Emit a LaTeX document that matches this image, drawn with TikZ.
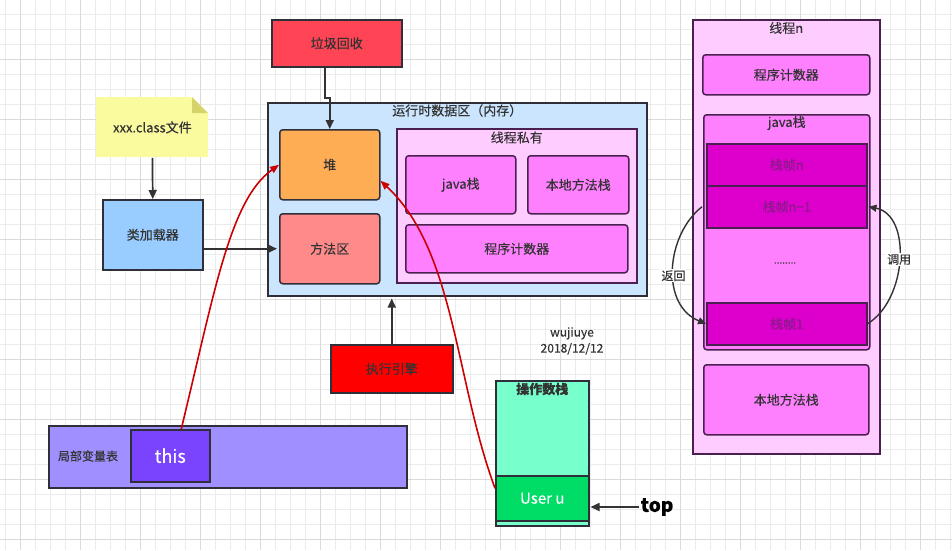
\documentclass[tikz,border=0pt]{standalone}
\usepackage{fontspec}
\setmainfont{Noto Sans CJK SC}[FakeBold=0.3]
\usepackage{xcolor}
\usepackage{tikz}
\usetikzlibrary{arrows.meta, calc, positioning}

\definecolor{gridminor}{HTML}{EBEBEB}
\definecolor{gridmajor}{HTML}{DADADA}
\definecolor{boxline}{HTML}{2F2F3A}
\definecolor{pinkline}{HTML}{4A2050}
\definecolor{textdark}{HTML}{333333}
\definecolor{gcred}{HTML}{FF4455}
\definecolor{noteyellow}{HTML}{FAFA9E}
\definecolor{notefold}{HTML}{D4D46A}
\definecolor{loaderblue}{HTML}{99CCFF}
\definecolor{runtimeblue}{HTML}{CCE5FF}
\definecolor{heaporange}{HTML}{FFAD55}
\definecolor{methodred}{HTML}{FF8A8A}
\definecolor{privpink}{HTML}{FFCCFF}
\definecolor{stackpink}{HTML}{FF80FF}
\definecolor{framemag}{HTML}{DD00CC}
\definecolor{frametext}{HTML}{8A1A8A}
\definecolor{opgreen}{HTML}{77FFCC}
\definecolor{usergreen}{HTML}{00DD66}
\definecolor{localpurple}{HTML}{9F8FFF}
\definecolor{thispurple}{HTML}{7A44FF}
\definecolor{redline}{HTML}{CC0000}

\newcommand{\fsz}[1]{\fontsize{#1}{#1}\selectfont}

\begin{document}
\begin{tikzpicture}[x=1pt,y=-1pt,thick,
                    grid minor/.style={draw=gridminor,line width=0.6pt},
                    grid major/.style={draw=gridmajor,line width=0.6pt},
                    dark box/.style={draw=boxline,line width=1.5pt,anchor=north west,inner sep=0pt,font=\fsz{13},text=textdark},
                    round box/.style={dark box,rounded corners=3pt},
                    pink box/.style={round box,draw=pinkline,fill=stackpink},
                    title text/.style={font=\fsz{13},text=textdark,inner sep=0pt},
                    black arrow/.style={draw=textdark,line width=1.7pt,-{Triangle[length=9pt,width=8pt]}},
                    red arrow/.style={draw=redline,line width=1.6pt,-{Triangle[length=9pt,width=7pt]}},
                    stack arc/.style={draw=textdark,line width=1.4pt,-{Triangle[length=8pt,width=7pt]}}]
\useasboundingbox (0,0) rectangle (952,550);
\fill[white] (0,0) rectangle (952,550);

% background grid
\foreach \gx in {5,20,...,950}
   \draw[grid minor] (\gx,0) -- (\gx,550);
\foreach \gy in {14,29,...,549}
   \draw[grid minor] (0,\gy) -- (952,\gy);
\foreach \gx in {20,80,...,920}
   \draw[grid major] (\gx,0) -- (\gx,550);
\foreach \gy in {59,119,...,539}
   \draw[grid major] (0,\gy) -- (952,\gy);

\node[dark box,fill=gcred,minimum width=130,minimum height=47] (GarbageCollect) at (271,19) {垃圾回收};

\fill[noteyellow] (96,97) -- (192,97) -- (208,113) -- (208,157) -- (96,157) -- cycle;
\fill[notefold] (192,97) -- (208,113) -- (192,113) -- cycle;
\node[anchor=north west,inner sep=0pt,minimum width=112,minimum height=60,font=\fsz{13},text=textdark] (ClassFile) at (96,97) {xxx.class文件};

\node[dark box,fill=loaderblue,minimum width=100,minimum height=70] (ClassLoader) at (102,199) {类加载器};

\node[dark box,fill=runtimeblue,minimum width=379,minimum height=193] (RuntimeArea) at (267,102) {};
\node[title text] (RuntimeTitle) at ([yshift=-8.5pt]RuntimeArea.north) {运行时数据区（内存）};

\node[round box,fill=heaporange,minimum width=100,minimum height=70] (Heap) at (279,129) {堆};
\node[round box,fill=methodred,minimum width=100,minimum height=70] (MethodArea) at (279,213) {方法区};

\node[dark box,draw=pinkline,fill=privpink,minimum width=240,minimum height=154] (ThreadPrivate) at (396,128) {};
\node[title text] (PrivateTitle) at ([yshift=-9.5pt]ThreadPrivate.north) {线程私有};
\node[pink box,minimum width=110,minimum height=58] (JavaStack) at (405,155) {java栈};
\node[pink box,minimum width=101,minimum height=58] (NativeStack) at (527,155) {本地方法栈};
\node[pink box,minimum width=222,minimum height=48] (PcRegister) at (405,224) {程序计数器};

\node[dark box,fill=red,minimum width=122,minimum height=48] (Engine) at (330,344) {执行引擎};

\node[align=center,font=\fontsize{12}{16}\selectfont,text=textdark] (Signature) at (572,341) {wujiuye\\2018/12/12};

\node[dark box,fill=opgreen,minimum width=93,minimum height=145] (OperandStack) at (495,380) {};
\node[title text,font=\bfseries\fsz{13}] (OperandTitle) at ([yshift=-9pt]OperandStack.north) {操作数栈};
\node[dark box,fill=usergreen,minimum width=93,minimum height=45,text=white,font=\fsz{15}] (UserU) at (495,475) {User u};
\node[font=\bfseries\fsz{19},text=black,inner sep=1pt] (TopLabel) at (657,507) {top};

\node[dark box,fill=localpurple,minimum width=358,minimum height=62] (LocalVars) at (48,425) {};
\node[font=\fsz{12},text=textdark] (LocalTitle) at (88,456) {局部变量表};
\node[dark box,fill=thispurple,minimum width=79,minimum height=52,text=white,font=\fsz{18}] (ThisSlot) at (130,429) {this};

\node[dark box,draw=pinkline,fill=privpink,minimum width=187,minimum height=434] (ThreadN) at (692,19) {};
\node[title text] (ThreadTitle) at ([yshift=-9pt]ThreadN.north) {线程n};
\node[pink box,minimum width=167,minimum height=40] (ThreadPc) at (702,54) {程序计数器};
\node[pink box,minimum width=166,minimum height=235] (ThreadJava) at (703,114) {};
\node[title text] (ThreadJavaTitle) at ([yshift=-9pt]ThreadJava.north) {java栈};
\node[dark box,draw=pinkline,fill=framemag,text=frametext,minimum width=160,minimum height=42] (FrameN) at (706,143) {栈帧n};
\node[dark box,draw=pinkline,fill=framemag,text=frametext,minimum width=160,minimum height=42] (FrameNm) at (706,185) {栈帧n−1};
\node[font=\fsz{10},text=textdark] (FrameDots) at (785,263) {........};
\node[dark box,draw=pinkline,fill=framemag,text=frametext,minimum width=160,minimum height=42] (FrameOne) at (706,302) {栈帧1};
\node[pink box,minimum width=165,minimum height=70] (ThreadNative) at (703,364) {本地方法栈};

% connectors
\draw[black arrow] ([xshift=-12pt]GarbageCollect.south) |- ([yshift=31pt]Heap.north) -- (Heap.north);
\draw[black arrow] (ClassFile.south) -- (ClassLoader.north);
\draw[black arrow] (ClassLoader.east |- MethodArea.west) -- ([xshift=-2pt]MethodArea.west);
\draw[black arrow] (Engine.north) -- ([yshift=-2pt]Engine.north |- RuntimeArea.south);
\draw[black arrow] (TopLabel.west) -- ([xshift=1pt]TopLabel.west -| UserU.east);

\draw[red arrow] ([xshift=11pt]ThisSlot.north) .. controls (215,290) and (230,200) .. (Heap.west);
\draw[red arrow] ([yshift=10pt]UserU.west) .. controls (455,380) and (455,250) .. ([yshift=-16pt]Heap.east);

\draw[stack arc] ([xshift=-4pt]FrameNm.west) .. controls (666,235) and (660,305) .. (FrameOne.west)
   node[pos=0.55,fill=white,inner sep=1pt,font=\fsz{12},text=textdark] (ReturnLabel) {返回};
\draw[stack arc] (FrameOne.east) .. controls (907,300) and (912,215) .. ([xshift=1pt]FrameNm.east)
   node[pos=0.5,fill=white,inner sep=1pt,font=\fsz{12},text=textdark] (CallLabel) {调用};
\end{tikzpicture}
\end{document}
